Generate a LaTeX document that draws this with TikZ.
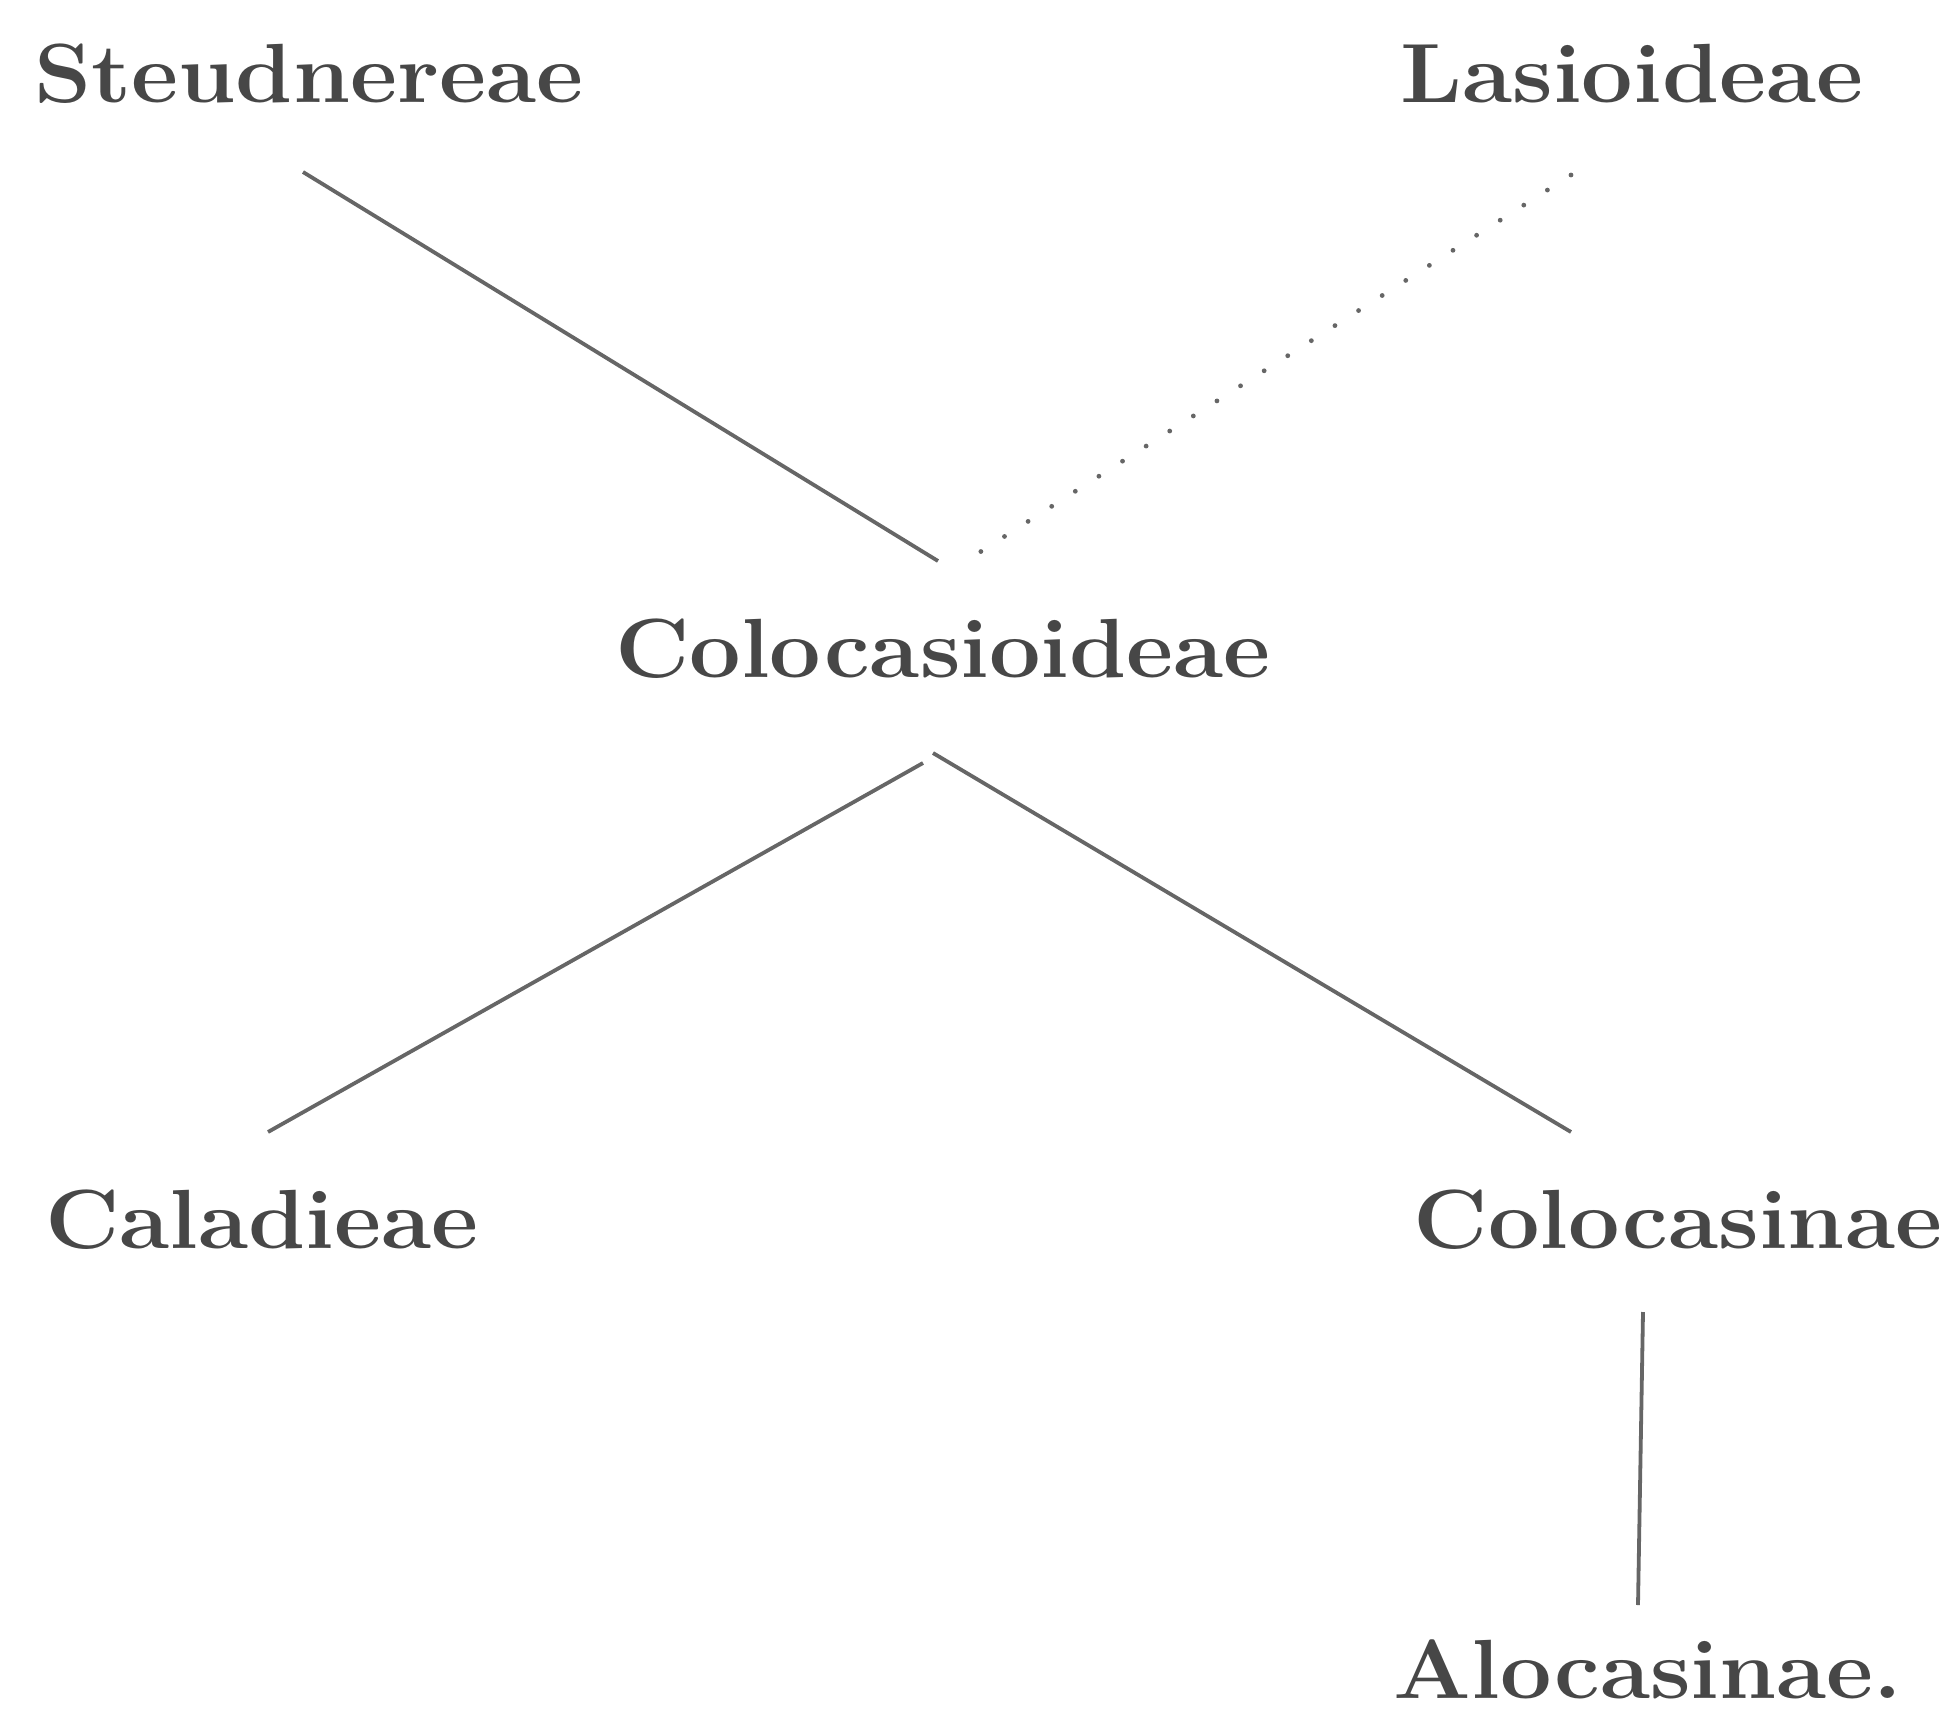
\documentclass[tikz,border=0pt]{standalone}
\usepackage{graphicx}
\newcommand\wtx[1]{\scalebox{1.09}[1]{#1}}
\begin{document}
\begin{tikzpicture}[x=0.5pt,y=-0.5pt,
  taxon/.style={anchor=base,inner sep=0pt,text=black!72,font=\fontsize{42}{50}\selectfont\bfseries},
  link/.style={draw=black!60,line width=1.9pt},
  dotlink/.style={draw=black!60,line width=2.4pt,line cap=round,dash pattern=on 0pt off 14pt}]
\useasboundingbox (0,0) rectangle (1955,1724);
\node[taxon] (st) at (309,102) {\wtx{Steudnereae}};
\node[taxon] (la) at (1632,102) {\wtx{Lasioideae}};
\node[taxon] (col) at (943,677) {\wtx{Colocasioideae}};
\node[taxon] (ca) at (262,1248) {\wtx{Caladieae}};
\node[taxon] (cs) at (1678,1248) {\wtx{Colocasinae}};
\node[taxon] (al) at (1648,1698) {\wtx{Alocasinae.}};
\draw[link] ([shift={(-6,70)}]st.base) -- ([shift={(-5,-116)}]col.base);
\draw[dotlink] ([shift={(-61,73)}]la.base) -- ([shift={(23,-116)}]col.base);
\draw[link] ([shift={(-20,86)}]col.base) -- ([shift={(6,-116)}]ca.base);
\draw[link] ([shift={(-10,76)}]col.base) -- ([shift={(-107,-116)}]cs.base);
\draw[link] ([shift={(-35,64)}]cs.base) -- ([shift={(-10,-93)}]al.base);
\end{tikzpicture}
\end{document}
